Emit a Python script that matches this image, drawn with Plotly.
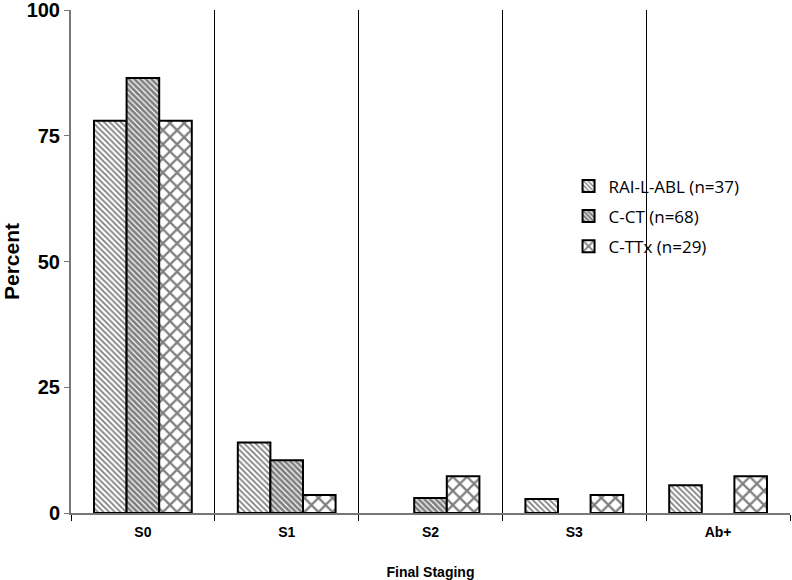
import plotly.graph_objects as go

categories = ["S0", "S1", "S2", "S3", "Ab+"]
rai_l_abl = [78.0, 14.0, None, 2.8, 5.5]
c_ct = [86.5, 10.5, 3.0, None, None]
c_ttx = [78.0, 3.6, 7.3, 3.6, 7.3]
series_names = ["RAI-L-ABL (n=37)", "C-CT (n=68)", "C-TTx (n=29)"]
y_ticks = [0, 25, 50, 75, 100]

patterns = [
    dict(shape="\\", size=4, solidity=0.45, fgcolor="black", bgcolor="white"),
    dict(shape="\\", size=4, solidity=0.7, fgcolor="black", bgcolor="white"),
    dict(shape="x", size=10, solidity=0.4, fgcolor="black", bgcolor="white"),
]

fig = go.Figure()
for i, (name, vals, pat) in enumerate(zip(series_names, [rai_l_abl, c_ct, c_ttx], patterns)):
    fig.add_trace(go.Bar(
        x=categories, y=vals, name=name, legendgroup=f"g{i}",
        marker=dict(color="white", pattern=pat, line=dict(color="black", width=2)),
    ))

fig.update_layout(
    width=792, height=580,
    margin=dict(l=71, r=2, t=10, b=67),
    paper_bgcolor="white", plot_bgcolor="white",
    barmode="group", bargap=0.32, bargroupgap=0,
    font=dict(family="Liberation Sans, Arial, sans-serif", color="black"),
    showlegend=True,
    legend=dict(
        x=0.692, y=0.685, xanchor="left", yanchor="top",
        font=dict(family="Open Sans, Liberation Sans, sans-serif", size=17, color="black"),
        bgcolor="rgba(0,0,0,0)", tracegroupgap=5, itemsizing="constant",
    ),
    xaxis=dict(
        automargin=False,
        title=dict(text="Final Staging", font=dict(size=14, weight="bold"), standoff=30),
        tickfont=dict(size=14, weight="bold", family="Liberation Sans, Arial, sans-serif"),
        ticklabelstandoff=5,
        tickson="boundaries", ticks="outside", ticklen=6, tickcolor="black",
        showgrid=True, gridcolor="black", gridwidth=1,
        showline=True, linecolor="#777777", linewidth=2,
        range=[-0.5, 4.5],
    ),
    yaxis=dict(
        automargin=False,
        title=dict(text="Percent", font=dict(size=21, weight="bold"), standoff=14),
        range=[0, 100.05], tickvals=y_ticks, ticklabeloverflow="allow",
        tickfont=dict(size=20, weight="bold", family="Liberation Sans, Arial, sans-serif"),
        ticks="outside", ticklen=5, tickcolor="#777777",
        showgrid=False, zeroline=False,
        showline=True, linecolor="#777777", linewidth=2,
    ),
)

fig.write_html(
    "out.html",
    config={"displayModeBar": False},
    post_script="document.body.style.margin='0px';document.body.style.overflow='hidden';",
)
